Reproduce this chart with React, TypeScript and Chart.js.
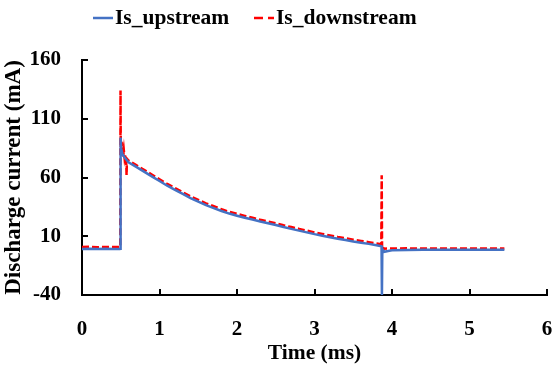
import React, { useEffect, useRef } from "react";
import { Chart, registerables } from "chart.js";

Chart.register(...registerables);

// Time (ms) and current (mA) for each trace
const upTime = [0, 0.1, 0.2, 0.3, 0.4, 0.49, 0.495, 0.498, 0.505, 0.52, 0.55, 0.6, 0.7, 0.8, 0.9, 1.0, 1.1, 1.2, 1.3, 1.4, 1.5, 1.6, 1.7, 1.8, 1.9, 2.0, 2.1, 2.2, 2.3, 2.4, 2.5, 2.6, 2.7, 2.8, 2.9, 3.0, 3.1, 3.2, 3.3, 3.4, 3.5, 3.6, 3.7, 3.8, 3.865, 3.87, 3.875, 3.9, 3.95, 4.0, 4.2, 4.4, 4.6, 4.8, 5.0, 5.2, 5.45];
const upCurrent = [-0.8, -0.6, -0.9, -0.7, -0.8, -0.8, -0.7, 94, 85, 80, 77, 73, 69, 65, 61, 57, 53, 49.5, 46, 42.5, 39.5, 36.5, 34, 31.5, 29.3, 27.5, 25.8, 24.2, 22.5, 21, 19.5, 17.8, 16.3, 14.8, 13.3, 11.8, 10.5, 9.2, 7.9, 6.8, 5.5, 4.5, 3.5, 2.4, 1.5, -40, -1, -3.2, -2.6, -2, -1.6, -1.4, -1.5, -1.4, -1.5, -1.4, -1.5];

const downTime = [0, 0.1, 0.2, 0.3, 0.4, 0.49, 0.494, 0.497, 0.5, 0.505, 0.51, 0.515, 0.52, 0.525, 0.53, 0.54, 0.55, 0.56, 0.57, 0.575, 0.58, 0.6, 0.7, 0.8, 0.9, 1.0, 1.1, 1.2, 1.3, 1.4, 1.5, 1.6, 1.7, 1.8, 1.9, 2.0, 2.1, 2.2, 2.3, 2.4, 2.5, 2.6, 2.7, 2.8, 2.9, 3.0, 3.1, 3.2, 3.3, 3.4, 3.5, 3.6, 3.7, 3.8, 3.862, 3.867, 3.872, 3.88, 3.9, 4.0, 4.2, 4.4, 4.6, 4.8, 5.0, 5.2, 5.45];
const downCurrent = [0.8, 1.0, 0.7, 0.9, 0.8, 0.8, 0.9, 134, 86, 92, 80, 90, 78, 86, 77, 83, 76, 79, 75, 62, 76, 74.5, 70.5, 66.5, 62.5, 58.5, 54.5, 51, 47.5, 44, 41, 38, 35.5, 33, 30.8, 29, 27.3, 25.7, 24, 22.5, 21, 19.3, 17.8, 16.3, 14.8, 13.3, 12, 10.7, 9.4, 8.3, 7, 6, 5, 3.9, 3.2, 62, -2, 0.5, -0.6, -0.4, -0.3, -0.5, -0.4, -0.5, -0.4, -0.5, -0.4];

const xTicks = [0, 1, 2, 3, 4, 5, 6];
const yTicks = [-40, 10, 60, 110, 160];

const FONT = "'Liberation Serif', 'Times New Roman', serif";

// Legend drawn on the canvas so the marker-to-text spacing matches the original
const legendPlugin = {
  id: "customLegend",
  afterDraw(chart: any) {
    const ctx = chart.ctx as CanvasRenderingContext2D;
    const ds = chart.data.datasets;
    const items = [
      { segs: [[93, 113]], textX: 115 },
      { segs: [[254, 263], [268, 274]], textX: 276 },
    ];
    ctx.save();
    ctx.font = `bold 21.5px ${FONT}`;
    ctx.textBaseline = "middle";
    ctx.textAlign = "left";
    items.forEach((it, i) => {
      ctx.strokeStyle = ds[i].borderColor;
      ctx.lineWidth = 2.5;
      ctx.setLineDash([]);
      it.segs.forEach(([a, b]) => {
        ctx.beginPath();
        ctx.moveTo(a, 18);
        ctx.lineTo(b, 18);
        ctx.stroke();
      });
      ctx.fillStyle = "#000";
      ctx.fillText(ds[i].label, it.textX, 18);
    });
    ctx.restore();
  },
};

export default function App() {
  const ref = useRef<HTMLCanvasElement>(null);

  useEffect(() => {
    const canvas = ref.current;
    if (!canvas) return;
    const chart = new Chart(canvas, {
      type: "line",
      data: {
        datasets: [
          {
            label: "Is_upstream",
            data: upTime.map((t, i) => ({ x: t, y: upCurrent[i] })),
            borderColor: "#4472C4",
            backgroundColor: "#4472C4",
            borderWidth: 2.5,
            pointRadius: 0,
            tension: 0,
          },
          {
            label: "Is_downstream",
            data: downTime.map((t, i) => ({ x: t, y: downCurrent[i] })),
            borderColor: "#FF0000",
            backgroundColor: "#FF0000",
            borderWidth: 2.5,
            borderDash: [7, 3],
            pointRadius: 0,
            tension: 0,
          },
        ],
      },
      plugins: [legendPlugin],
      options: {
        responsive: false,
        animation: false,
        layout: { padding: { top: 60, right: 0, left: 0, bottom: 0 } },
        plugins: {
          tooltip: { enabled: false },
          legend: { display: false },
        },
        scales: {
          x: {
            type: "linear",
            min: 0,
            max: 6,
            afterBuildTicks: (s: any) => {
              s.ticks = xTicks.map((v) => ({ value: v }));
            },
            afterFit: (s: any) => {
              s.height = 71;
              s.paddingRight = 13;
              s.paddingLeft = 0;
            },
            border: { display: true, color: "#000", width: 2 },
            grid: { drawOnChartArea: false, tickLength: -6, color: "#000", lineWidth: 2 },
            ticks: {
              color: "#000",
              padding: 28,
              maxRotation: 0,
              font: { family: FONT, size: 21, weight: "bold" },
            },
            title: {
              display: true,
              text: "Time (ms)",
              color: "#000",
              padding: { top: 0, bottom: 0 },
              font: { family: FONT, size: 21.5, weight: "bold" },
            },
          },
          y: {
            type: "linear",
            min: -40,
            max: 160,
            afterBuildTicks: (s: any) => {
              s.ticks = yTicks.map((v) => ({ value: v }));
            },
            afterFit: (s: any) => {
              s.width = 82;
            },
            border: { display: true, color: "#000", width: 2 },
            grid: { drawOnChartArea: false, tickLength: -6, color: "#000", lineWidth: 2 },
            ticks: {
              color: "#000",
              padding: 27,
              font: { family: FONT, size: 21, weight: "bold" },
            },
            title: {
              display: true,
              text: "Discharge current (mA)",
              color: "#000",
              padding: { top: 0, bottom: 0 },
              font: { family: FONT, size: 23, weight: "bold" },
            },
          },
        },
      },
    });
    return () => chart.destroy();
  }, []);

  return (
    <div style={{ position: "fixed", left: 0, top: 0, width: 560, height: 366, background: "#fff" }}>
      <canvas ref={ref} width={560} height={366} style={{ display: "block" }} />
    </div>
  );
}
